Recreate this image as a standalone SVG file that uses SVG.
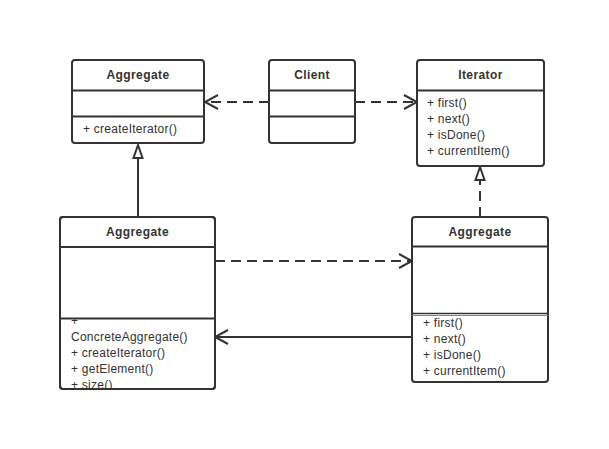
<svg xmlns="http://www.w3.org/2000/svg" width="609" height="449" viewBox="0 0 609 449">
<style>
.box{fill:#fff;stroke:#333;stroke-width:2}
.div{stroke:#333;stroke-width:2}
.t{font-family:"Liberation Sans",Arial,sans-serif;font-size:12px;font-weight:bold;fill:#333;text-anchor:middle;letter-spacing:0.4px}
.m{font-family:"Liberation Sans",Arial,sans-serif;font-size:12px;fill:#333;letter-spacing:0.25px}
.c{fill:none;stroke:#333;stroke-width:2}
.d{stroke-dasharray:10 6}
.h{fill:#fff;stroke:#333;stroke-width:2}
</style>
<defs>
<clipPath id="cp1"><rect x="61" y="319" width="153" height="69"/></clipPath>
</defs>
<rect width="609" height="449" fill="#fff"/>
<g id="connectors">
<line class="c d" x1="269" y1="102" x2="206" y2="102"/>
<polyline class="c" points="218,95 205,102 218,109"/>
<line class="c d" x1="355" y1="102" x2="415" y2="102"/>
<polyline class="c" points="404,95 417,102 404,109"/>
<line class="c" x1="138" y1="217" x2="138" y2="158"/>
<polygon class="h" points="138,145 133.5,158 142.5,158"/>
<line class="c d" x1="480" y1="217" x2="480" y2="181"/>
<polygon class="h" points="480,167 475.5,180 484.5,180"/>
<line class="c d" x1="215" y1="261" x2="410" y2="261"/>
<polyline class="c" points="399,254 412,261 399,268"/>
<line class="c" x1="412" y1="337" x2="217" y2="337"/>
<polyline class="c" points="228,330 215,337 228,344"/>
</g>
<g id="aggregate-top">
<rect class="box" x="72" y="60" width="132" height="83" rx="3"/>
<line class="div" x1="72" y1="90.5" x2="204" y2="90.5"/>
<line class="div" x1="72" y1="116.5" x2="204" y2="116.5"/>
<text class="t" x="138" y="79">Aggregate</text>
<text class="m" x="83" y="133">+ createIterator()</text>
</g>
<g id="client">
<rect class="box" x="269" y="60" width="86" height="83" rx="3"/>
<line class="div" x1="269" y1="90.5" x2="355" y2="90.5"/>
<line class="div" x1="269" y1="116.5" x2="355" y2="116.5"/>
<text class="t" x="312" y="79">Client</text>
</g>
<g id="iterator">
<rect class="box" x="417" y="60" width="127" height="106" rx="3"/>
<line class="div" x1="417" y1="90.5" x2="544" y2="90.5"/>
<text class="t" x="480.5" y="79">Iterator</text>
<text class="m" x="427" y="107.3">+ first()</text>
<text class="m" x="427" y="123.3">+ next()</text>
<text class="m" x="427" y="139.3">+ isDone()</text>
<text class="m" x="427" y="155.3">+ currentItem()</text>
</g>
<g id="concrete-aggregate">
<rect class="box" x="60" y="217" width="155" height="172" rx="3"/>
<line class="div" x1="60" y1="247" x2="215" y2="247"/>
<text class="t" x="137.5" y="235.7">Aggregate</text>
<g clip-path="url(#cp1)">
<text class="m" x="71" y="324.7">+</text>
<text class="m" x="71" y="340.7">ConcreteAggregate()</text>
<text class="m" x="71" y="356.7">+ createIterator()</text>
<text class="m" x="71" y="372.7">+ getElement()</text>
<text class="m" x="71" y="388.7">+ size()</text>
</g>
<line class="div" x1="60" y1="318.5" x2="215" y2="318.5"/>
<rect x="60" y="217" width="155" height="172" rx="3" fill="none" stroke="#333" stroke-width="2"/>
</g>
<g id="concrete-iterator">
<rect class="box" x="412" y="217" width="136" height="165" rx="3"/>
<line class="div" x1="412" y1="246.5" x2="548" y2="246.5"/>
<line x1="412" y1="313.5" x2="548" y2="313.5" stroke="#333" stroke-width="1.5"/>
<line x1="412" y1="315.5" x2="548" y2="315.5" stroke="#888" stroke-width="1"/>
<text class="t" x="480" y="235.7">Aggregate</text>
<text class="m" x="423" y="327.3">+ first()</text>
<text class="m" x="423" y="343.3">+ next()</text>
<text class="m" x="423" y="359.3">+ isDone()</text>
<text class="m" x="423" y="375.3">+ currentItem()</text>
</g>
</svg>
